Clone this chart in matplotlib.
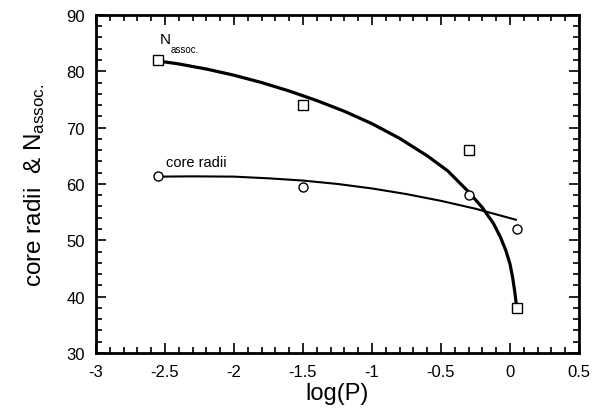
import matplotlib
matplotlib.use("Agg")
import matplotlib.pyplot as plt
from matplotlib.ticker import MultipleLocator

plt.rcParams['font.family'] = ['Liberation Sans', 'DejaVu Sans']
plt.rcParams['mathtext.fontset'] = 'custom'
plt.rcParams['mathtext.rm'] = 'Liberation Sans'
plt.rcParams['mathtext.it'] = 'Liberation Sans'

# measured points
logp = [-2.55, -1.5, -0.3, 0.05]
n_assoc = [82, 74, 66, 38]
core_radii = [61.5, 59.5, 58, 52]

# fitted curves
n_fit_x = [-2.57, -2.4, -2.2, -2.0, -1.8, -1.6, -1.4, -1.2, -1.0, -0.8, -0.6,
           -0.45, -0.3, -0.2, -0.12, -0.07, -0.03, 0.0, 0.02, 0.035, 0.045, 0.048]
n_fit_y = [81.9, 81.3, 80.4, 79.3, 78.0, 76.5, 74.8, 72.9, 70.7, 68.1, 65.0,
           62.3, 58.6, 55.8, 53.0, 50.6, 48.2, 45.8, 43.3, 40.8, 38.8, 38.2]
core_fit_x = [-2.55, -2.3, -2.0, -1.75, -1.5, -1.25, -1.0, -0.75, -0.5, -0.25, 0.05]
core_fit_y = [61.3, 61.35, 61.3, 61.0, 60.6, 60.0, 59.2, 58.2, 57.0, 55.6, 53.6]

fig = plt.figure(figsize=(5.94, 4.14), dpi=100)
ax = fig.add_axes([0.1616, 0.145, 0.8131, 0.8165])

ax.plot(n_fit_x, n_fit_y, color='black', lw=2.3, solid_capstyle='butt',
        solid_joinstyle='round')
ax.plot(core_fit_x, core_fit_y, color='black', lw=1.5, solid_capstyle='butt',
        solid_joinstyle='round')
ax.plot(logp, n_assoc, ls='none', marker='s', ms=7.5, mfc='white', mec='black', mew=1.0)
ax.plot(logp, core_radii, ls='none', marker='o', ms=6.5, mfc='white', mec='black', mew=1.0)

ax.text(-2.54, 85.0, 'N', fontsize=11, ha='left', va='baseline')
ax.text(-2.46, 83.4, 'assoc.', fontsize=7, ha='left', va='baseline')
ax.text(-2.49, 63.2, 'core radii', fontsize=10.5, ha='left', va='baseline')

ax.set_xlim(-3, 0.5)
ax.set_ylim(30, 90)
ax.xaxis.set_major_locator(MultipleLocator(0.5))
ax.xaxis.set_minor_locator(MultipleLocator(0.1))
ax.yaxis.set_major_locator(MultipleLocator(10))
ax.yaxis.set_minor_locator(MultipleLocator(2))
ax.set_xticks([-3, -2.5, -2, -1.5, -1, -0.5, 0, 0.5])
ax.set_xticklabels(['-3', '-2.5', '-2', '-1.5', '-1', '-0.5', '0', '0.5'])
ax.tick_params(which='both', direction='in', top=True, right=True, width=1.2)
ax.tick_params(which='major', length=7, labelsize=12, pad=8)
ax.tick_params(which='minor', length=4)
for s in ax.spines.values():
    s.set_linewidth(2)

ax.set_xlabel('log(P)', fontsize=17, labelpad=2)
ax.set_ylabel(r'core radii  & N$_{\mathrm{assoc.}}$', fontsize=17.5, labelpad=14)

fig.savefig('out.png', dpi=100)
